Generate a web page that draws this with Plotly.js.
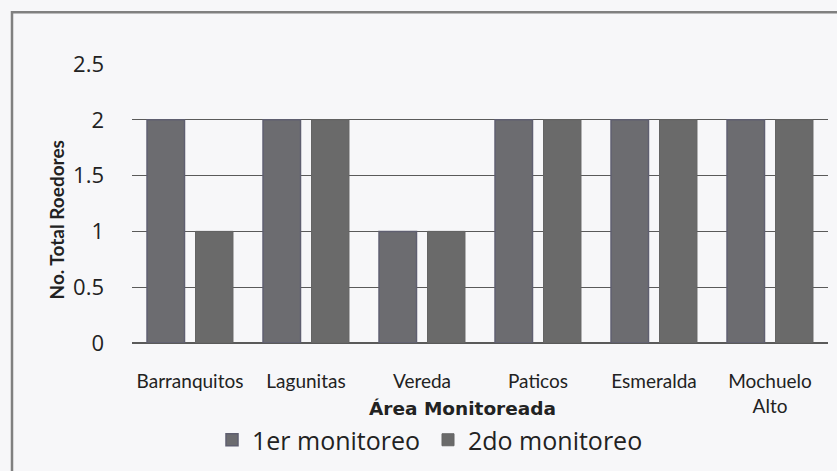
<!DOCTYPE html>
<html><head><meta charset="utf-8">
<script src="https://cdn.plot.ly/plotly-3.0.1.min.js"></script>
<style>html,body{margin:0;padding:0;background:#f7f7f9}</style>
</head><body>
<div id="chart" style="width:837px;height:471px"></div>
<script>
const categories = ['Barranquitos', 'Lagunitas', 'Vereda', 'Paticos', 'Esmeralda', 'Mochuelo<br>Alto'];
const serie1 = [2, 2, 1, 2, 2, 2];
const serie2 = [1, 2, 1, 2, 2, 2];
const names = ['1er monitoreo', '2do monitoreo'];
const yTicks = [0, 0.5, 1, 1.5, 2, 2.5];
const yTickText = ['0', '0.5', '1', '1.5', '2', '2.5'];

const traces = [
  {type:'bar', name:names[0], x:categories, y:serie1,
   marker:{color:'#6c6c70', line:{color:'#5f5f70', width:1.5}}},
  {type:'bar', name:names[1], x:categories, y:serie2,
   marker:{color:'#6a6a6a', line:{color:'#646464', width:1}}}
];

const layout = {
  width:837, height:471,
  margin:{l:132, r:9, t:64, b:127},
  paper_bgcolor:'#f7f7f9', plot_bgcolor:'rgba(0,0,0,0)',
  barmode:'group', bargap:0.164, bargroupgap:0.227,
  showlegend:true,
  legend:{orientation:'h', x:(212-132)/696, xanchor:'left', y:(344-440)/280, yanchor:'middle',
    entrywidth:171, entrywidthmode:'pixels',
    font:{family:'Open Sans, sans-serif', size:25, color:'#222'}, bgcolor:'rgba(0,0,0,0)'},
  xaxis:{tickfont:{family:'Lato, Open Sans, sans-serif', size:19, color:'#222'},
    ticklabelstandoff:25, showgrid:false, showline:false, zeroline:false, ticks:''},
  yaxis:{range:[0,2.5], tickvals:yTicks, ticktext:yTickText,
    tickfont:{family:'Open Sans, sans-serif', size:22, color:'#222'},
    showgrid:true, gridcolor:'#5a5a5a', gridwidth:1.3,
    zeroline:true, zerolinecolor:'#5a5a5a', zerolinewidth:1.3,
    ticklabelstandoff:27, showline:false, ticks:''},
  annotations:[
    {text:'<b>No. Total Roedores</b>', xref:'paper', yref:'paper', x:(56-132)/696, y:(344-221)/280,
     textangle:-90, showarrow:false, xanchor:'center', yanchor:'middle',
     font:{family:'Lato, Open Sans, sans-serif', size:19, color:'#222'}},
    {text:'<b>Área Monitoreada</b>', xref:'paper', yref:'paper', x:(462-132)/696, y:(344-410)/280,
     showarrow:false, xanchor:'center', yanchor:'middle',
     font:{family:'DejaVu Sans, sans-serif', size:18.5, color:'#222'}}
  ],
  shapes:[
    {type:'rect', xref:'paper', yref:'paper', x0:(12-132)/696, x1:(850-132)/696,
     y0:(344-490)/280, y1:(344-12)/280, line:{color:'#808080', width:2.5}, fillcolor:'rgba(0,0,0,0)', layer:'below'}
  ]
};
Plotly.newPlot('chart', traces, layout, {displayModeBar:false, staticPlot:true});
</script>
</body></html>
